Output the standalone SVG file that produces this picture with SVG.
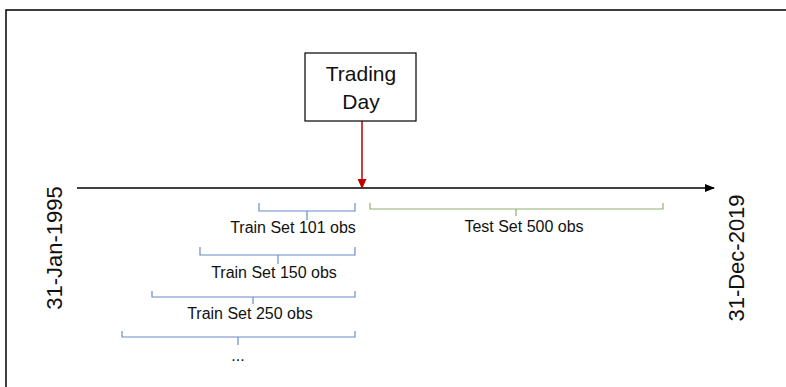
<svg xmlns="http://www.w3.org/2000/svg" width="786" height="387" viewBox="0 0 786 387">
<style>
  text { font-family: "Liberation Sans", Arial, sans-serif; fill: #111; }
  .lbl { font-size: 16px; text-anchor: middle; }
  .date { font-size: 22px; text-anchor: middle; }
  .bl { fill: none; stroke: #6a8cc8; stroke-width: 1.2; }
  .gr { fill: none; stroke: #90b072; stroke-width: 1.2; }
</style>
<defs>
  <marker id="ah" markerWidth="10" markerHeight="8" refX="9" refY="4" orient="auto" markerUnits="userSpaceOnUse">
    <path d="M0,0 L10,4 L0,8 Z" fill="#000"/>
  </marker>
  <marker id="ahr" markerWidth="10" markerHeight="9" refX="9" refY="4.5" orient="auto" markerUnits="userSpaceOnUse">
    <path d="M0,0 L10,4.5 L0,9 Z" fill="#c00000"/>
  </marker>
</defs>
<rect width="786" height="387" fill="#fff"/>
<g id="frame">
  <path d="M6,387 L6,10 L786,10" fill="none" stroke="#000" stroke-width="1.5"/>
</g>
<g id="connectors">
  <line x1="77" y1="188" x2="714" y2="188" stroke="#000" stroke-width="1.5" marker-end="url(#ah)"/>
  <line x1="362" y1="121" x2="362" y2="188" stroke="#c00000" stroke-width="1.5" marker-end="url(#ahr)"/>
</g>
<g id="trading-day">
  <rect x="305" y="53" width="111" height="68" fill="#fff" stroke="#000" stroke-width="1.2"/>
  <text x="361" y="81" style="font-size:21px" text-anchor="middle">Trading</text>
  <text x="361" y="109" style="font-size:21px" text-anchor="middle">Day</text>
</g>
<g id="start-date">
  <text class="date" transform="translate(62,248) rotate(-90)">31-Jan-1995</text>
</g>
<g id="end-date">
  <text class="date" transform="translate(744,258) rotate(-90)">31-Dec-2019</text>
</g>
<g id="train-101">
  <path class="bl" d="M259,203 L259,211 L355,211 L355,203 M307,211 L307,220"/>
  <text class="lbl" x="293" y="233">Train Set 101 obs</text>
</g>
<g id="train-150">
  <path class="bl" d="M200,247 L200,255 L355,255 L355,247 M278,255 L278,264"/>
  <text class="lbl" x="274" y="278">Train Set 150 obs</text>
</g>
<g id="train-250">
  <path class="bl" d="M152,291 L152,297 L355,297 L355,291 M253,297 L253,304"/>
  <text class="lbl" x="250" y="319">Train Set 250 obs</text>
</g>
<g id="train-more">
  <path class="bl" d="M122,331 L122,337 L355,337 L355,331 M238,337 L238,345"/>
  <text class="lbl" x="238" y="361">...</text>
</g>
<g id="test-500">
  <path class="gr" d="M370,203 L370,209 L663,209 L663,203 M516,209 L516,216"/>
  <text class="lbl" x="524" y="232">Test Set 500 obs</text>
</g>
</svg>
